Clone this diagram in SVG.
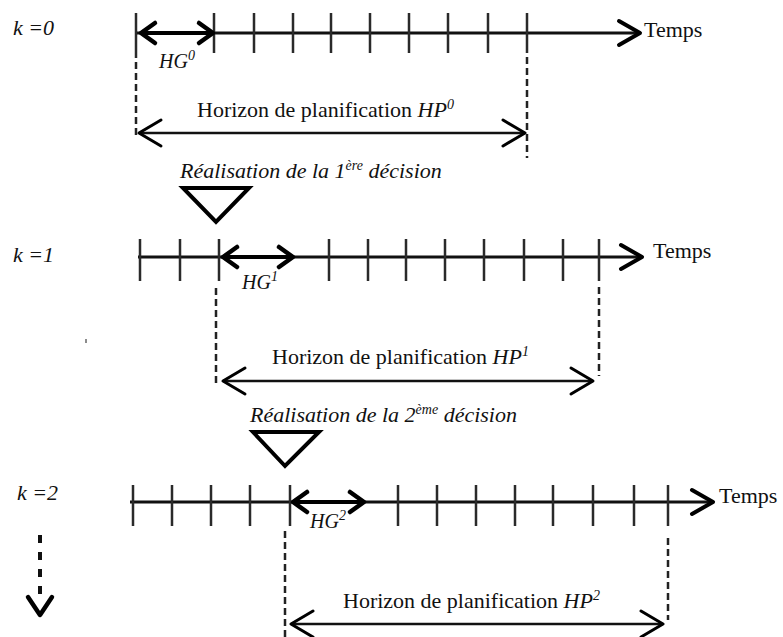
<svg xmlns="http://www.w3.org/2000/svg" width="783" height="637" viewBox="0 0 783 637">
<style>
.t{font-family:'Liberation Serif','Times New Roman','DejaVu Serif',serif;font-size:22px;fill:#111}
.i{font-style:italic}
.sup{font-size:14px}
.axis{stroke:#111;stroke-width:3;fill:none;marker-end:url(#axHead)}
.tick{stroke:#2a2a2a;stroke-width:2.5}
.hg{stroke:#000;stroke-width:4;fill:none;marker-start:url(#hgHead);marker-end:url(#hgHead)}
.hp{stroke:#111;stroke-width:2.6;fill:none;marker-start:url(#hpHead);marker-end:url(#hpHead)}
.dash{stroke:#222;stroke-width:2.5;stroke-dasharray:7 4;fill:none}
.tri{fill:none;stroke:#000;stroke-width:4;stroke-linejoin:miter}
</style>
<defs>
<marker id="axHead" markerUnits="userSpaceOnUse" markerWidth="32" markerHeight="32" viewBox="-28 -16 32 32" refX="0" refY="0" orient="auto-start-reverse">
<path d="M-21,-12 L0,0 L-21,12" fill="none" stroke="#000" stroke-width="4" stroke-linejoin="round" stroke-linecap="round"/>
</marker>
<marker id="hgHead" markerUnits="userSpaceOnUse" markerWidth="26" markerHeight="28" viewBox="-20 -14 26 28" refX="0" refY="0" orient="auto-start-reverse">
<path d="M-14,-10 L0,0 L-14,10" fill="none" stroke="#000" stroke-width="4.5" stroke-linejoin="round" stroke-linecap="round"/>
</marker>
<marker id="hpHead" markerUnits="userSpaceOnUse" markerWidth="30" markerHeight="32" viewBox="-26 -16 30 32" refX="0" refY="0" orient="auto-start-reverse">
<path d="M-22,-13 L0,0 L-22,13" fill="none" stroke="#000" stroke-width="3" stroke-linejoin="round" stroke-linecap="round"/>
</marker>
</defs>

<g id="row0">
<text class="t i" x="13" y="35">k =0</text>
<line class="axis" x1="136" y1="33" x2="640" y2="33"/>
<line class="tick" x1="136" y1="13" x2="136" y2="58"/>
<path class="tick" d="M214,13V53M254,13V53M293,13V53M331,13V53M370,13V53M409,13V53M448,13V53M488,13V53M527,13V53"/>
<line class="hg" x1="141" y1="33" x2="213" y2="33"/>
<text class="t" x="644" y="37">Temps</text>
<text class="t i" x="159" y="68" style="font-size:20px">HG<tspan class="sup" dy="-8">0</tspan></text>
</g>

<g id="hp0">
<line class="dash" x1="136" y1="62" x2="136" y2="136"/>
<line class="dash" x1="527" y1="57" x2="527" y2="158"/>
<line class="hp" x1="139" y1="133" x2="525" y2="133"/>
<text class="t" x="197" y="117">Horizon de planification <tspan class="i">HP</tspan><tspan class="sup i" dy="-8">0</tspan></text>
</g>

<g id="decision1">
<text class="t i" x="180" y="178">Réalisation de la 1<tspan class="sup" dy="-8">ère</tspan><tspan dy="8"> décision</tspan></text>
<path class="tri" d="M183,188 L249,188 L216,222 Z"/>
</g>

<g id="row1">
<text class="t i" x="13" y="262">k =1</text>
<line class="axis" x1="138" y1="257" x2="642" y2="257"/>
<path class="tick" d="M140,239V281M180,239V281M219,239V281M329,239V281M368,239V281M406,239V281M445,239V281M484,239V281M524,239V281M563,239V281M599,239V281"/>
<line class="hg" x1="223" y1="257" x2="293" y2="257"/>
<text class="t" x="653" y="258">Temps</text>
<text class="t i" x="242" y="289" style="font-size:20px">HG<tspan class="sup" dy="-8">1</tspan></text>
</g>

<g id="hp1">
<line class="dash" x1="216" y1="288" x2="216" y2="386"/>
<line class="dash" x1="599" y1="287" x2="599" y2="376"/>
<line class="hp" x1="223" y1="381" x2="593" y2="381"/>
<text class="t" x="272" y="364">Horizon de planification <tspan class="i">HP</tspan><tspan class="sup i" dy="-8">1</tspan></text>
</g>

<g id="decision2">
<text class="t i" x="250" y="422">Réalisation de la 2<tspan class="sup" dy="-8">ème</tspan><tspan dy="8"> décision</tspan></text>
<path class="tri" d="M253,432 L319,432 L285,466 Z"/>
</g>

<g id="row2">
<text class="t i" x="17" y="500">k =2</text>
<line class="axis" x1="130" y1="502" x2="713" y2="502"/>
<path class="tick" d="M133,485V526M172,485V526M211,485V526M250,485V526M290,485V526M398,485V526M437,485V526M476,485V526M515,485V526M553,485V526M593,485V526M634,485V526M668,485V526"/>
<line class="hg" x1="293" y1="502" x2="364" y2="502"/>
<text class="t" x="719" y="503">Temps</text>
<text class="t i" x="310" y="528" style="font-size:20px">HG<tspan class="sup" dy="-8">2</tspan></text>
</g>

<g id="hp2">
<line class="dash" x1="285" y1="531" x2="285" y2="637"/>
<line class="dash" x1="668" y1="538" x2="668" y2="620"/>
<line class="hp" x1="291" y1="624" x2="663" y2="624"/>
<text class="t" x="343" y="608">Horizon de planification <tspan class="i">HP</tspan><tspan class="sup i" dy="-8">2</tspan></text>
</g>

<g id="connectors">
<line x1="40" y1="535" x2="40" y2="594" stroke="#111" stroke-width="4" stroke-dasharray="8 9"/>
<path d="M28,597 L40,615 L52,597" fill="none" stroke="#000" stroke-width="4.5" stroke-linejoin="round" stroke-linecap="round"/>
<line x1="86" y1="339" x2="86" y2="343" stroke="#666" stroke-width="1.5"/>
</g>
</svg>
